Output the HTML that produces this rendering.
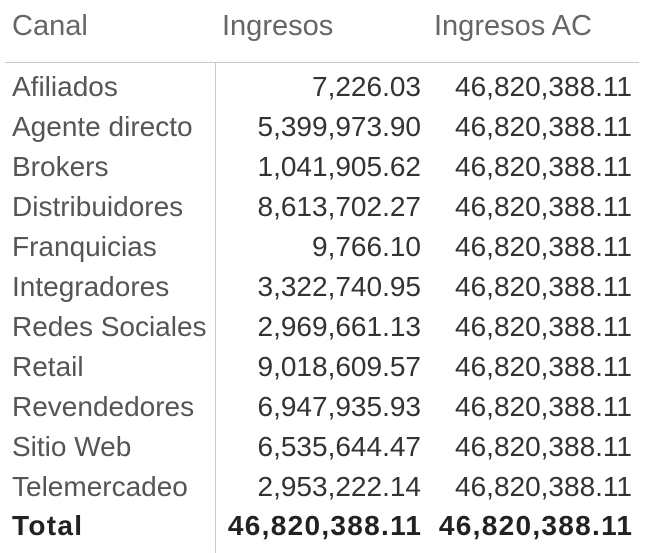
<!DOCTYPE html>
<html><head><meta charset="utf-8"><style>
body{margin:0;width:650px;height:553px;background:#fff;position:relative;overflow:hidden;font-family:"Liberation Sans",sans-serif;font-size:28px}
.r{position:absolute;left:0;width:650px;height:40px;line-height:40px}
.r div{position:absolute;top:0;white-space:nowrap}
.a{left:12px;color:#555;font-size:28px}
.b{right:229px;color:#333;text-align:right}
.c{right:18px;color:#333;text-align:right}
.h div{color:#666;font-size:29px}
.t div{font-weight:bold;color:#222;letter-spacing:1.3px}
.t .b,.t .c{margin-right:-1.3px}
</style></head><body>
<div style="position:absolute;left:5px;top:62px;width:634px;height:1px;background:#c8c8c8"></div>
<div style="position:absolute;left:215px;top:63px;width:1px;height:490px;background:#c8c8c8"></div>
<div class="r h" style="top:6px"><div class="a" style="color:#666">Canal</div><div style="left:222px">Ingresos</div><div style="left:434px">Ingresos AC</div></div>
<div class="r" style="top:67px"><div class="a">Afiliados</div><div class="b">7,226.03</div><div class="c">46,820,388.11</div></div>
<div class="r" style="top:107px"><div class="a">Agente directo</div><div class="b">5,399,973.90</div><div class="c">46,820,388.11</div></div>
<div class="r" style="top:147px"><div class="a">Brokers</div><div class="b">1,041,905.62</div><div class="c">46,820,388.11</div></div>
<div class="r" style="top:187px"><div class="a">Distribuidores</div><div class="b">8,613,702.27</div><div class="c">46,820,388.11</div></div>
<div class="r" style="top:227px"><div class="a">Franquicias</div><div class="b">9,766.10</div><div class="c">46,820,388.11</div></div>
<div class="r" style="top:267px"><div class="a">Integradores</div><div class="b">3,322,740.95</div><div class="c">46,820,388.11</div></div>
<div class="r" style="top:307px"><div class="a">Redes Sociales</div><div class="b">2,969,661.13</div><div class="c">46,820,388.11</div></div>
<div class="r" style="top:347px"><div class="a">Retail</div><div class="b">9,018,609.57</div><div class="c">46,820,388.11</div></div>
<div class="r" style="top:387px"><div class="a">Revendedores</div><div class="b">6,947,935.93</div><div class="c">46,820,388.11</div></div>
<div class="r" style="top:427px"><div class="a">Sitio Web</div><div class="b">6,535,644.47</div><div class="c">46,820,388.11</div></div>
<div class="r" style="top:467px"><div class="a">Telemercadeo</div><div class="b">2,953,222.14</div><div class="c">46,820,388.11</div></div>
<div class="r t" style="top:506px"><div class="a">Total</div><div class="b">46,820,388.11</div><div class="c">46,820,388.11</div></div>
</body></html>
